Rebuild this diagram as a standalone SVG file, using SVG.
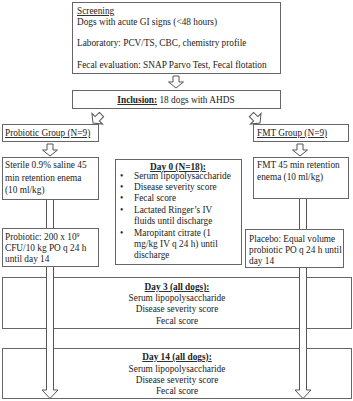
<svg xmlns="http://www.w3.org/2000/svg" width="353" height="401" viewBox="0 0 353 401">
<style>
.box{fill:#fff;stroke:#666;stroke-width:1}
.arr{fill:#fff;stroke:#555;stroke-width:1;stroke-linejoin:miter}
text{font-family:"Liberation Serif","Times New Roman",serif;font-size:9.3px;fill:#222}
.c{text-anchor:middle}
.u{text-decoration:underline}
.b{font-weight:bold}
</style>
<defs>
<path id="da" d="M-3,-12 L3,-12 L3,-6 L7.5,-6 L0,0 L-7.5,-6 L-3,-6 Z"/>
</defs>
<rect width="353" height="401" fill="#fff"/>

<g id="screening">
<rect class="box" x="72.5" y="2.5" width="208" height="71"/>
<text x="77" y="14" class="u">Screening</text>
<text x="77" y="25">Dogs with acute GI signs (&lt;48 hours)</text>
<text x="77" y="46">Laboratory: PCV/TS, CBC, chemistry profile</text>
<text x="77" y="68">Fecal evaluation: SNAP Parvo Test, Fecal flotation</text>
</g>

<g id="inclusion">
<rect class="box" x="72.5" y="90.5" width="208" height="18"/>
<text x="176" y="103" class="c"><tspan class="b u">Inclusion:</tspan> 18 dogs with AHDS</text>
</g>

<g id="day3">
<rect class="box" x="2.5" y="277.5" width="349" height="51"/>
<text x="177" y="290" class="c b u">Day 3 (all dogs):</text>
<text x="177" y="301" class="c">Serum lipopolysaccharide</text>
<text x="177" y="312" class="c">Disease severity score</text>
<text x="177" y="324" class="c">Fecal score</text>
</g>

<g id="day14">
<rect class="box" x="2.5" y="348.5" width="349" height="50"/>
<text x="177" y="360" class="c b u">Day 14 (all dogs):</text>
<text x="177" y="372" class="c">Serum lipopolysaccharide</text>
<text x="177" y="383" class="c">Disease severity score</text>
<text x="177" y="394" class="c">Fecal score</text>
</g>

<g id="connectors">
<use href="#da" class="arr" transform="translate(176,88)"/>
<use href="#da" class="arr" transform="translate(93,123) rotate(45)"/>
<use href="#da" class="arr" transform="translate(260,123) rotate(-45)"/>
<use href="#da" class="arr" transform="translate(50,156)"/>
<use href="#da" class="arr" transform="translate(300,156)"/>
<path class="arr" d="M46.5,199 L53.5,199 L53.5,390 L58,390 L50,398.5 L42,390 L46.5,390 Z"/>
<path class="arr" d="M299.5,198 L306.5,198 L306.5,390 L311,390 L303,398.5 L295,390 L299.5,390 Z"/>
</g>

<g id="probiotic-group">
<rect class="box" x="2.5" y="124.5" width="96" height="17"/>
<text x="5" y="136" class="u">Probiotic Group (N=9)</text>
</g>

<g id="fmt-group">
<rect class="box" x="253.5" y="124.5" width="95" height="17"/>
<text x="257" y="136" class="u">FMT Group (N=9)</text>
</g>

<g id="sterile">
<rect class="box" x="2.5" y="157.5" width="96" height="42"/>
<text x="5" y="168">Sterile 0.9% saline 45</text>
<text x="5" y="180.5">min retention enema</text>
<text x="5" y="193">(10 ml/kg)</text>
</g>

<g id="fmt-enema">
<rect class="box" x="253.5" y="157.5" width="95" height="41"/>
<text x="257" y="168">FMT 45 min retention</text>
<text x="257" y="180">enema (10 ml/kg)</text>
</g>

<g id="day0">
<rect class="box" x="115.5" y="159.5" width="126" height="105"/>
<text x="178" y="170" class="c b u">Day 0 (N=18):</text>
<text x="120" y="179">•</text><text x="134" y="179">Serum lipopolysaccharide</text>
<text x="120" y="190">•</text><text x="134" y="190">Disease severity score</text>
<text x="120" y="201">•</text><text x="134" y="201">Fecal score</text>
<text x="120" y="213">•</text><text x="134" y="213">Lactated Ringer’s IV</text>
<text x="134" y="224">fluids until discharge</text>
<text x="120" y="236">•</text><text x="134" y="236">Maropitant citrate (1</text>
<text x="134" y="247">mg/kg IV q 24 h) until</text>
<text x="134" y="258">discharge</text>
</g>

<g id="probiotic">
<rect class="box" x="2.5" y="228.5" width="96" height="38"/>
<text x="5" y="240">Probiotic: 200 x 10<tspan dy="-3.5" font-size="6">9</tspan></text>
<text x="5" y="251">CFU/10 kg PO q 24 h</text>
<text x="5" y="262">until day 14</text>
</g>

<g id="placebo">
<rect class="box" x="245.5" y="229.5" width="98" height="38"/>
<text x="249" y="242">Placebo: Equal volume</text>
<text x="249" y="253">probiotic PO q 24 h until</text>
<text x="249" y="264">day 14</text>
</g>
</svg>
